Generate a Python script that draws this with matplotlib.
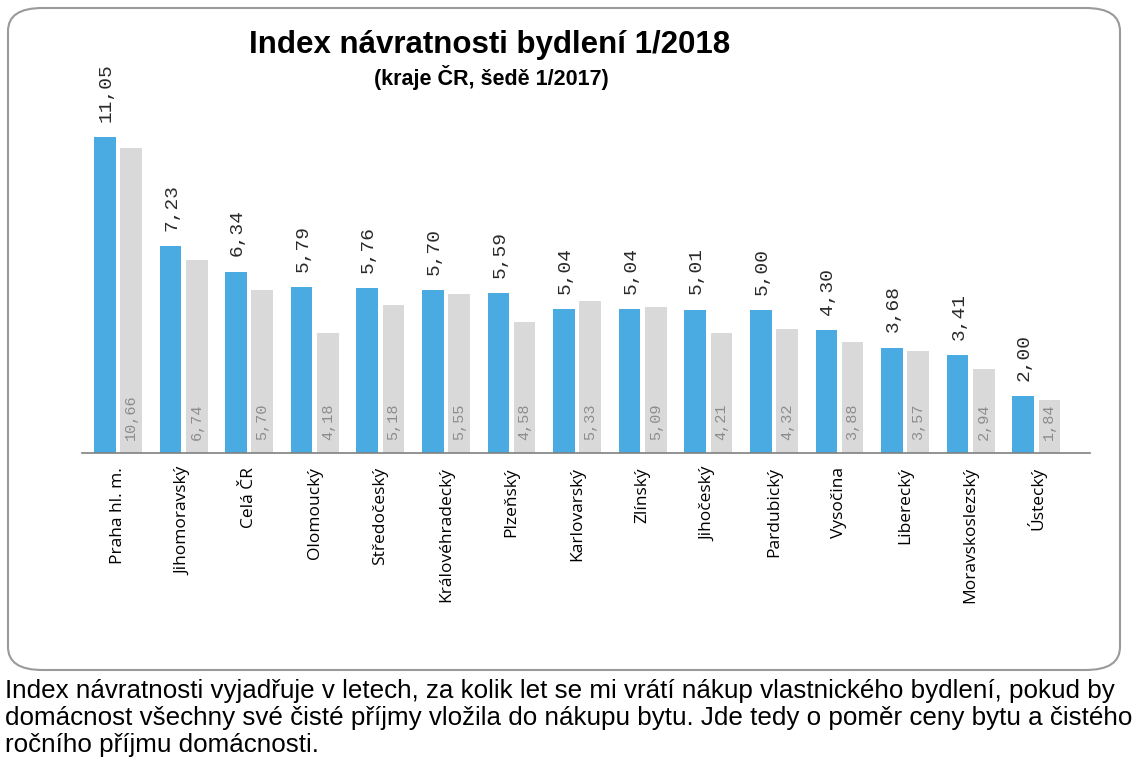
import matplotlib.pyplot as plt
from matplotlib.patches import FancyBboxPatch

kraje = ['Praha hl. m.', 'Jihomoravský', 'Celá ČR', 'Olomoucký', 'Středočeský',
         'Královéhradecký', 'Plzeňský', 'Karlovarský', 'Zlínský', 'Jihočeský',
         'Pardubický', 'Vysočina', 'Liberecký', 'Moravskoslezský', 'Ústecký']
index_2018 = [11.05, 7.23, 6.34, 5.79, 5.76, 5.70, 5.59, 5.04, 5.04, 5.01, 5.00, 4.30, 3.68, 3.41, 2.00]
index_2017 = [10.66, 6.74, 5.70, 4.18, 5.18, 5.55, 4.58, 5.33, 5.09, 4.21, 4.32, 3.88, 3.57, 2.94, 1.84]

modra = '#4aabe3'
seda = '#d9d9d9'

fig = plt.figure(figsize=(11.44, 7.68), dpi=100)
W, H = 1144, 768

# rounded frame around the chart
ramec = FancyBboxPatch((8 / W, 1 - 670 / H), 1112 / W, 662 / H,
                       boxstyle='round,pad=0,rounding_size=0.03',
                       transform=fig.transFigure, fc='white', ec='#9a9a9a', lw=1.5, zorder=-1)
fig.patches.append(ramec)

ax = fig.add_axes([82 / W, 1 - 453 / H, (1090 - 82) / W, (453 - 80) / H])
ax.patch.set_alpha(0)
x = range(len(kraje))
sirka = 0.33
xb = [i - 0.2 for i in x]
xg = [i + 0.2 for i in x]
ax.bar(xb, index_2018, sirka, color=modra)
ax.bar(xg, index_2017, sirka, color=seda)

for xi, v in zip(xb, index_2018):
    ax.annotate(f'{v:.2f}'.replace('.', ','), (xi, v), xytext=(1, 11), textcoords='offset points',
                rotation=90, ha='center', va='bottom', fontsize=14,
                family='Liberation Mono', color='#2a2a2a')
for xi, v in zip(xg, index_2017):
    ax.annotate(f'{v:.2f}'.replace('.', ','), (xi, 0), xytext=(0, 9), textcoords='offset points',
                rotation=90, ha='center', va='bottom', fontsize=11,
                family='Liberation Mono', color='#8c8c8c')

ax.set_xlim(-0.549, 14.82)
ax.set_ylim(0, 13.04)
ax.set_xticks(list(x))
ax.set_xticklabels(kraje, rotation=90, fontsize=12.5, family='Open Sans')
ax.tick_params(axis='x', length=0, pad=10)
ax.set_yticks([])
for s in ['top', 'right', 'left']:
    ax.spines[s].set_visible(False)
ax.spines['bottom'].set_color('#808080')
ax.spines['bottom'].set_linewidth(1.2)

fig.text(490 / W, 1 - 45 / H, 'Index návratnosti bydlení 1/2018', ha='center', va='center',
         fontsize=22.5, fontweight='bold', family='Liberation Sans')
fig.text(491 / W, 1 - 78 / H, '(kraje ČR, šedě 1/2017)', ha='center', va='center',
         fontsize=15.5, fontweight='bold', family='Liberation Sans')

popis = ('Index návratnosti vyjadřuje v letech, za kolik let se mi vrátí nákup vlastnického bydlení, pokud by\n'
         'domácnost všechny své čisté příjmy vložila do nákupu bytu. Jde tedy o poměr ceny bytu a čistého\n'
         'ročního příjmu domácnosti.')
fig.text(5 / W, 1 - 679 / H, popis, ha='left', va='top', fontsize=18.7,
         family='Liberation Sans', linespacing=1.17)

fig.savefig('out.png', dpi=100)
